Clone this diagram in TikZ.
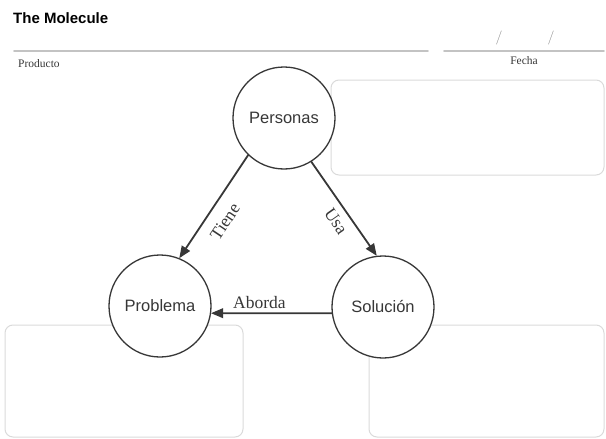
\documentclass[tikz,border=0pt]{standalone}
\usepackage{fontspec}
\newfontfamily\headfont{Liberation Sans}
\newfontfamily\verbfont{Liberation Serif}
\usetikzlibrary{arrows}
\definecolor{boxgray}{RGB}{218,218,218}
\definecolor{rulegray}{RGB}{195,195,195}
\definecolor{inkgray}{RGB}{55,55,55}
\tikzset{
	molecule/.style={circle,draw=inkgray,line width=1.3pt,fill=white,minimum size=102pt,inner sep=0pt,text=inkgray,font=\headfont\fontsize{16.5}{19}\selectfont},
	answerbox/.style={draw=boxgray,line width=1pt,rounded corners=8pt},
	relation/.style={->,draw=inkgray,line width=1.8pt},
	verb/.style={font=\verbfont\fontsize{17.5}{20}\selectfont,text=inkgray,inner sep=1pt}
}
\begin{document}
\begin{tikzpicture}[line cap=round,line join=round,>=triangle 45,x=1pt,y=-1pt]
			\useasboundingbox (0,0) rectangle (606,439);
			\node[anchor=west,inner sep=0pt,font=\headfont\bfseries\fontsize{15}{18}\selectfont] (title) at (13,18) {The Molecule};
			\draw[rulegray,line width=1.6pt] (14,51)--(428,51);
			\draw[rulegray,line width=1.6pt] (444,51)--(604,51);
			\node[anchor=west,inner sep=0pt,font=\verbfont\fontsize{11.5}{13}\selectfont,text=inkgray] (producto) at (18,64) {Producto};
			\node[inner sep=0pt,font=\verbfont\fontsize{11.5}{13}\selectfont,text=inkgray] (fecha) at (524,61) {Fecha};
			\node[inner sep=0pt,font=\fontsize{14}{16}\selectfont,text=rulegray!70!black] (dia) at (499,38) {/};
			\node[inner sep=0pt,font=\fontsize{14}{16}\selectfont,text=rulegray!70!black] (mes) at (551,38) {/};
			\draw[answerbox] (331,80) rectangle (604,175);
			\draw[answerbox] (5,325) rectangle (243,437);
			\draw[answerbox] (369,325) rectangle (604,437);
			\node[molecule] (per) at (284,118) {Personas};
			\node[molecule] (prob) at (160,306) {Problema};
			\node[molecule] (sol) at (383,307) {Solución};
			\draw[relation] (per.226) -- node[verb,sloped,below=10pt,pos=0.55] (tiene) {Tiene} (prob.68);
			\draw[relation] (per.302) -- node[verb,sloped,below=6pt,pos=0.55] (usa) {Usa} (sol.97);
			\draw[relation] (sol.187) -- node[verb,above=3pt,pos=0.6] (aborda) {Aborda} (prob.352);
\end{tikzpicture}
\end{document}
